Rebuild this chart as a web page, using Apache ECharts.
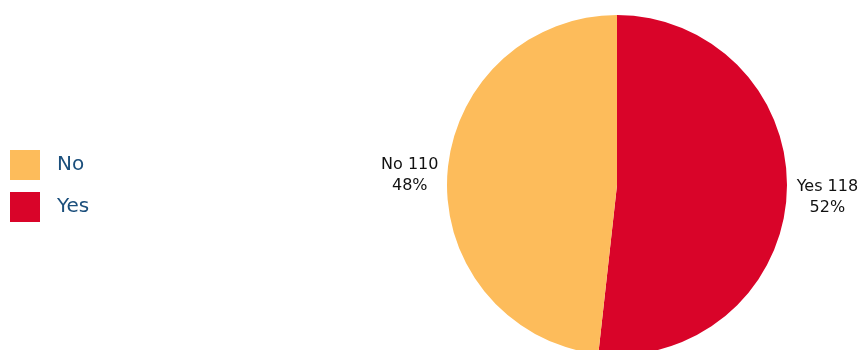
<!DOCTYPE html>
<html>
<head>
<meta charset="utf-8">
<script src="https://cdn.jsdelivr.net/npm/echarts@6/dist/echarts.min.js"></script>
<style>
  html, body { margin: 0; padding: 0; background: #fff; }
  #chart { width: 860px; height: 350px; }
</style>
</head>
<body>
<div id="chart"></div>
<script>
// Survey answers
const categories = ['Yes', 'No'];
const counts = [118, 110];
const legendOrder = ['No', 'Yes'];
const sliceColors = { Yes: '#d90429', No: '#fdbc5b' };

const chart = echarts.init(document.getElementById('chart'), null, { renderer: 'canvas' });

const pieData = categories.map((name, i) => ({
  name: name,
  value: counts[i],
  itemStyle: { color: sliceColors[name] },
  label: name === 'Yes' ? { padding: [6, 0, 0, 9] } : {}
}));

const font = '"DejaVu Sans", "Noto Sans", sans-serif';

// Centre both label lines inside a fixed-width box per slice
const lineBox = { color: '#111', fontSize: 16, lineHeight: 21, align: 'center', fontFamily: font };

chart.setOption({
  animation: false,
  textStyle: { fontFamily: font },
  legend: {
    data: legendOrder,
    orient: 'vertical',
    left: 5,
    top: 145,
    icon: 'rect',
    itemWidth: 30,
    itemHeight: 30,
    itemGap: 12,
    textStyle: {
      color: '#1b4f7c',
      fontSize: 20,
      fontFamily: font,
      padding: [0, 0, 0, 12]
    }
  },
  series: [{
    type: 'pie',
    center: [617, 185],
    radius: 170,
    startAngle: 90,
    clockwise: true,
    data: pieData,
    label: {
      show: true,
      position: 'outside',
      formatter: p => {
        const key = p.name === 'Yes' ? 'y' : 'n';
        return '{' + key + '|' + p.name + ' ' + p.value + '}\n{' + key + '|' + Math.round(p.percent) + '%}';
      },
      rich: {
        y: Object.assign({ width: 62 }, lineBox),
        n: Object.assign({ width: 57 }, lineBox)
      },
      overflow: 'none'
    },
    labelLine: { show: false, length: 4, length2: 0 },
    emphasis: { disabled: true }
  }]
});
</script>
</body>
</html>
